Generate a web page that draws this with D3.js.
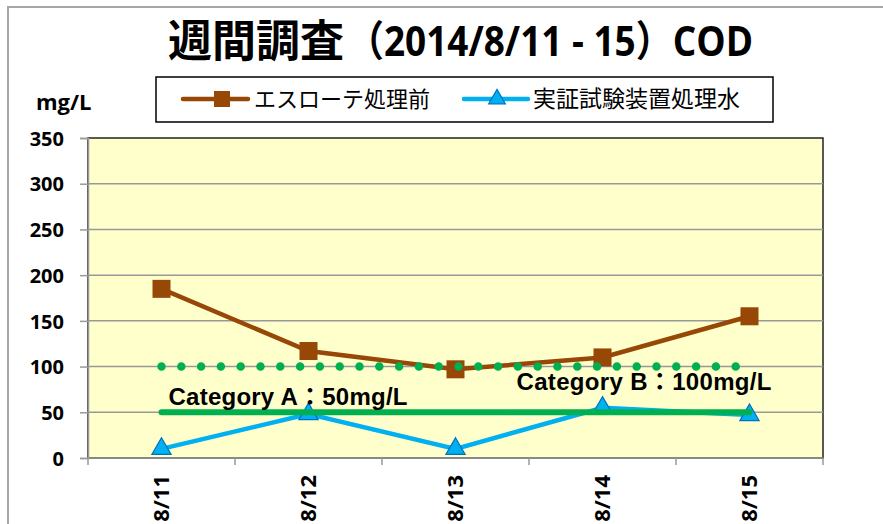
<!DOCTYPE html>
<html>
<head>
<meta charset="utf-8">
<script src="https://cdn.jsdelivr.net/npm/d3@7"></script>
<style>
  body { margin: 0; background: #fff; }
  svg { display: block; }
</style>
</head>
<body>
<div id="chart"></div>
<script>
// data
var days = ["8/11", "8/12", "8/13", "8/14", "8/15"];
var before = [185, 117, 97, 110, 155];      // エスローテ処理前
var treated = [10, 48, 10, 55, 47];         // 実証試験装置処理水
var limitA = [50, 50, 50, 50, 50];          // Category A：50mg/L
var limitB = [100, 100, 100, 100, 100];     // Category B：100mg/L
var yTicks = [0, 50, 100, 150, 200, 250, 300, 350];

var svgWidth = 883;
var svgHeight = 524;

var plot = { left: 88, right: 823, top: 138, bottom: 458 };

var brown = "#974706";
var blue = "#00B0F0";
var blueEdge = "#0070C0";
var green = "#00B050";
var latin = "'Open Sans', 'Noto Sans CJK JP', sans-serif";
var cjk = "'Noto Sans CJK JP', sans-serif";

var svg = d3.select("#chart")
  .append("svg")
  .attr("width", svgWidth)
  .attr("height", svgHeight);

// outer chart frame (only top and left edges are visible)
svg.append("rect")
  .attr("x", 8).attr("y", 7)
  .attr("width", 900).attr("height", 600)
  .attr("fill", "none")
  .attr("stroke", "#a6a6a6")
  .attr("stroke-width", 2);

// scales
var x = d3.scaleBand().domain(days).range([plot.left, plot.right]).padding(0);
var y = d3.scaleLinear().domain([0, 350]).range([plot.bottom, plot.top]);
var cx = function(d) { return x(d) + x.bandwidth() / 2; };

// plot background
svg.append("rect")
  .attr("x", plot.left).attr("y", plot.top)
  .attr("width", plot.right - plot.left)
  .attr("height", plot.bottom - plot.top)
  .attr("fill", "#FFFFCC")
  .attr("stroke", "#222")
  .attr("stroke-width", 1.5);

// gridlines
svg.append("g")
  .selectAll("line")
  .data(yTicks.filter(function(t) { return t > 0 && t < 350; }))
  .enter().append("line")
  .attr("x1", plot.left).attr("x2", plot.right)
  .attr("y1", function(d) { return y(d); })
  .attr("y2", function(d) { return y(d); })
  .attr("stroke", "#999")
  .attr("stroke-width", 1.5);

// y axis
var leftAxis = d3.axisLeft(y).tickValues(yTicks).tickSize(8).tickPadding(0).tickFormat(d3.format("d"));
var gy = svg.append("g")
  .attr("transform", `translate(${plot.left}, 0)`)
  .call(leftAxis);
gy.select(".domain").attr("stroke", "#999").attr("stroke-width", 1.5);
gy.selectAll(".tick line").attr("stroke", "#999").attr("stroke-width", 1.5);
gy.selectAll(".tick text")
  .attr("x", -24)
  .attr("dy", "0.36em")
  .attr("font-family", latin)
  .attr("font-weight", "bold")
  .attr("font-size", "20px")
  .attr("fill", "#000");

// x axis: ticks at the band boundaries, labels rotated
var bounds = days.map(function(d) { return x(d); }).concat([plot.right]);
svg.append("line")
  .attr("x1", plot.left).attr("x2", plot.right)
  .attr("y1", plot.bottom).attr("y2", plot.bottom)
  .attr("stroke", "#999").attr("stroke-width", 1.5);
svg.append("g")
  .selectAll("line")
  .data(bounds)
  .enter().append("line")
  .attr("x1", function(d) { return d; })
  .attr("x2", function(d) { return d; })
  .attr("y1", plot.bottom).attr("y2", plot.bottom + 7)
  .attr("stroke", "#999").attr("stroke-width", 1.5);

svg.append("g")
  .selectAll("text")
  .data(days)
  .enter().append("text")
  .attr("transform", function(d) { return `translate(${cx(d)}, ${plot.bottom + 17}) rotate(-90)`; })
  .attr("text-anchor", "end")
  .attr("dy", "0.36em")
  .attr("font-family", latin)
  .attr("font-weight", "bold")
  .attr("font-size", "22px")
  .text(function(d) { return d; });

// series
var line = d3.line()
  .x(function(d, i) { return cx(days[i]); })
  .y(function(d) { return y(d); });

svg.append("path")
  .datum(before)
  .attr("d", line)
  .attr("fill", "none")
  .attr("stroke", brown)
  .attr("stroke-width", 4.5);

svg.append("g")
  .selectAll("rect")
  .data(before)
  .enter().append("rect")
  .attr("x", function(d, i) { return cx(days[i]) - 9; })
  .attr("y", function(d) { return y(d) - 9; })
  .attr("width", 18).attr("height", 18)
  .attr("fill", brown);

svg.append("path")
  .datum(treated)
  .attr("d", line)
  .attr("fill", "none")
  .attr("stroke", blue)
  .attr("stroke-width", 4.5);

var tri = d3.symbol().type(d3.symbolTriangle).size(160);
svg.append("g")
  .selectAll("path")
  .data(treated)
  .enter().append("path")
  .attr("d", tri)
  .attr("transform", function(d, i) { return `translate(${cx(days[i])}, ${y(d)})`; })
  .attr("fill", blue)
  .attr("stroke", blueEdge)
  .attr("stroke-width", 1.2);

// regulation lines
svg.append("path")
  .datum(limitB)
  .attr("d", line)
  .attr("fill", "none")
  .attr("stroke", green)
  .attr("stroke-width", 8.5)
  .attr("stroke-linecap", "round")
  .attr("stroke-dasharray", "0 19.8");

svg.append("path")
  .datum(limitA)
  .attr("d", line)
  .attr("fill", "none")
  .attr("stroke", green)
  .attr("stroke-width", 6)
  .attr("stroke-linecap", "round");

svg.append("text")
  .attr("x", cx(days[0]) + 7)
  .attr("y", y(limitA[0]) - 7)
  .attr("font-family", "'Liberation Sans', 'Noto Sans CJK JP', sans-serif")
  .attr("font-weight", "bold")
  .attr("font-size", "24px")
  .attr("textLength", 239)
  .attr("lengthAdjust", "spacing")
  .text("Category A：50mg/L");

svg.append("text")
  .attr("x", cx(days[2]) + 61)
  .attr("y", y(limitB[0]) + 23)
  .attr("font-family", "'Liberation Sans', 'Noto Sans CJK JP', sans-serif")
  .attr("font-weight", "bold")
  .attr("font-size", "24px")
  .attr("textLength", 255)
  .attr("lengthAdjust", "spacing")
  .text("Category B：100mg/L");

// title
svg.append("text")
  .attr("x", 168).attr("y", 57)
  .attr("font-family", cjk)
  .attr("font-weight", "bold")
  .attr("font-size", "44px")
  .text("週間調査");
svg.append("text")
  .attr("x", 347).attr("y", 56)
  .attr("font-family", latin)
  .attr("font-weight", "bold")
  .attr("font-size", "42px")
  .attr("textLength", 406)
  .attr("lengthAdjust", "spacingAndGlyphs")
  .text("（2014/8/11 - 15）COD");

// unit label
svg.append("text")
  .attr("x", 36).attr("y", 102)
  .attr("dy", "0.36em")
  .attr("font-family", latin)
  .attr("font-weight", "bold")
  .attr("font-size", "22px")
  .text("mg/L");

// legend
var legend = svg.append("g");
legend.append("rect")
  .attr("x", 156).attr("y", 77)
  .attr("width", 617).attr("height", 45)
  .attr("fill", "#fff")
  .attr("stroke", "#000")
  .attr("stroke-width", 1.5);

legend.append("line")
  .attr("x1", 183).attr("x2", 248).attr("y1", 99).attr("y2", 99)
  .attr("stroke", brown).attr("stroke-width", 4.5).attr("stroke-linecap", "round");
legend.append("rect")
  .attr("x", 214).attr("y", 91).attr("width", 16).attr("height", 16)
  .attr("fill", brown);
legend.append("text")
  .attr("x", 254).attr("y", 99).attr("dy", "0.36em")
  .attr("font-family", cjk)
  .attr("font-size", "22px")
  .text("エスローテ処理前");

legend.append("line")
  .attr("x1", 464).attr("x2", 528).attr("y1", 99).attr("y2", 99)
  .attr("stroke", blue).attr("stroke-width", 4.5).attr("stroke-linecap", "round");
legend.append("path")
  .attr("d", d3.symbol().type(d3.symbolTriangle).size(120))
  .attr("transform", "translate(497, 99)")
  .attr("fill", blue)
  .attr("stroke", blueEdge)
  .attr("stroke-width", 1.2);
legend.append("text")
  .attr("x", 533).attr("y", 99).attr("dy", "0.36em")
  .attr("font-family", cjk)
  .attr("font-size", "23px")
  .text("実証試験装置処理水");
</script>
</body>
</html>
